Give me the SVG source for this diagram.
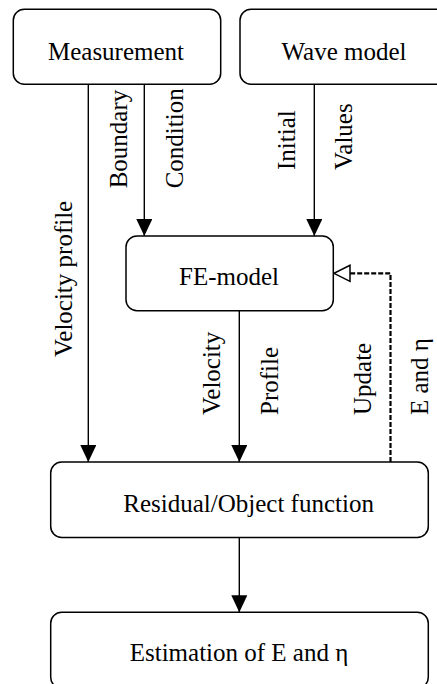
<svg xmlns="http://www.w3.org/2000/svg" width="437" height="684" viewBox="0 0 437 684">
<style>
  .box { fill: #fff; stroke: #000; stroke-width: 1.5; }
  .lbl { font-family: "Liberation Serif", "Times New Roman", serif; font-size: 25px; fill: #000; }
  .mid { text-anchor: middle; }
  .conn { fill: none; stroke: #000; stroke-width: 1.4; }
  .dash { fill: none; stroke: #000; stroke-width: 2.2; stroke-dasharray: 5 2; }
</style>
<defs>
  <marker id="arr" markerUnits="userSpaceOnUse" markerWidth="17" markerHeight="16" viewBox="0 0 17 16" refX="17" refY="8" orient="auto">
    <path d="M0,0 L17,8 L0,16 z" fill="#000" stroke="none"/>
  </marker>
  <marker id="hollow" markerUnits="userSpaceOnUse" markerWidth="20" markerHeight="20" viewBox="-2 -2 20 20" refX="16" refY="8" orient="auto" overflow="visible">
    <path d="M0,0 L16,8 L0,16 z" fill="#fff" stroke="#000" stroke-width="1.5" stroke-dasharray="none"/>
  </marker>
</defs>
<rect width="437" height="684" fill="#fff"/>

<g id="connectors">
  <path class="conn" d="M88.3,84.3 V462" marker-end="url(#arr)"/>
  <path class="conn" d="M144.3,84.3 V236" marker-end="url(#arr)"/>
  <path class="conn" d="M314.3,84.3 V236" marker-end="url(#arr)"/>
  <path class="conn" d="M239.3,310.7 V462" marker-end="url(#arr)"/>
  <path class="conn" d="M239.3,537.5 V612.3" marker-end="url(#arr)"/>
  <path class="dash" d="M390.5,462 V273.3 H334" marker-end="url(#hollow)"/>
  <g class="lbl">
    <text transform="translate(72,357) rotate(-90)">Velocity profile</text>
    <text transform="translate(126.7,188.3) rotate(-90)">Boundary</text>
    <text transform="translate(182.7,188.3) rotate(-90)">Condition</text>
    <text transform="translate(295,170) rotate(-90)">Initial</text>
    <text transform="translate(352.3,170) rotate(-90)">Values</text>
    <text transform="translate(220,415) rotate(-90)">Velocity</text>
    <text transform="translate(278.3,415) rotate(-90)">Profile</text>
    <text transform="translate(370.7,415) rotate(-90)">Update</text>
    <text transform="translate(428.3,415) rotate(-90)">E and η</text>
  </g>
</g>

<g id="measurement">
  <rect class="box" x="13.3" y="9.3" width="207.4" height="75" rx="11"/>
  <text class="lbl mid" x="116" y="59.5">Measurement</text>
</g>
<g id="wave-model">
  <rect class="box" x="240" y="9.3" width="208" height="75" rx="11"/>
  <text class="lbl mid" x="344" y="60">Wave model</text>
</g>
<g id="fe-model">
  <rect class="box" x="126" y="236" width="207.3" height="74.7" rx="11"/>
  <text class="lbl mid" x="229" y="285">FE-model</text>
</g>
<g id="residual">
  <rect class="box" x="50.7" y="462" width="377.6" height="75.5" rx="11"/>
  <text class="lbl" x="123.3" y="512">Residual/Object function</text>
</g>
<g id="estimation">
  <rect class="box" x="50.7" y="612.3" width="377.6" height="76" rx="11"/>
  <text class="lbl mid" x="239" y="661">Estimation of E and η</text>
</g>
</svg>
